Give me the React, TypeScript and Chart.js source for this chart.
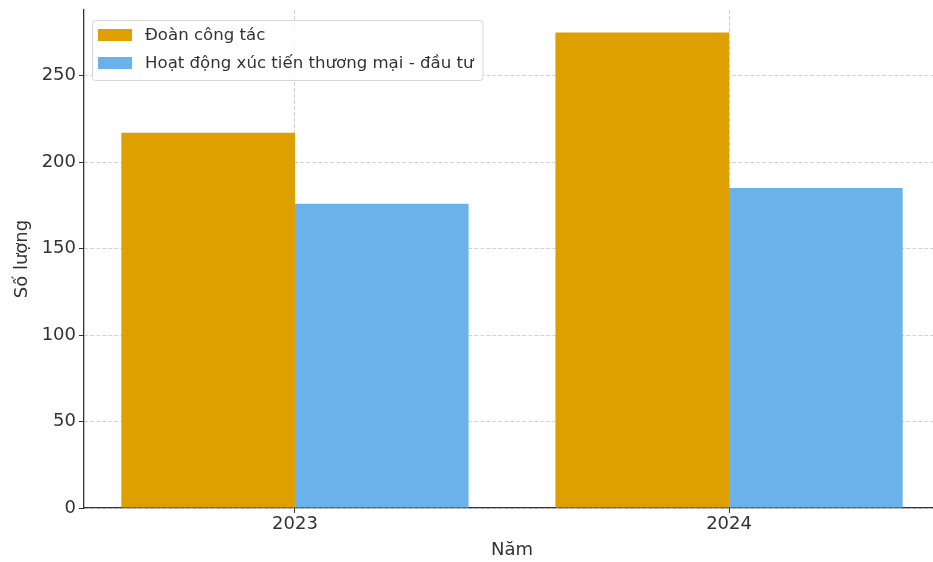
import React, { useEffect, useRef } from "react";
import { Chart, registerables } from "chart.js";

Chart.register(...registerables);

const years = ["2023", "2024"];
const seriesNames = ["Đoàn công tác", "Hoạt động xúc tiến thương mại - đầu tư"];
const doanCongTac = [217, 275];
const hoatDongXucTien = [176, 185];
const seriesColors = ["#DDA000", "#6AB2EA"];
const yTicks = [0, 50, 100, 150, 200, 250];

const FONT = "'DejaVu Sans', sans-serif";
const TEXT = "#333333";

const legendBoxPlugin = {
  id: "legendBox",
  afterDraw(chart: any) {
    const ctx = chart.ctx;
    const ds = chart.data.datasets;
    ctx.save();
    ctx.font = `16.6px ${FONT}`;
    let maxW = 0;
    ds.forEach((d: any) => {
      maxW = Math.max(maxW, ctx.measureText(d.label).width);
    });
    const bx = chart.chartArea.left + 8;
    const by = chart.chartArea.top + 10;
    const bw = 53 + maxW + 9;
    const bh = 60;
    ctx.beginPath();
    ctx.roundRect(bx + 0.5, by + 0.5, bw, bh, 3);
    ctx.fillStyle = "rgba(255,255,255,0.85)";
    ctx.fill();
    ctx.strokeStyle = "#d6d6d6";
    ctx.lineWidth = 1;
    ctx.stroke();
    ds.forEach((d: any, i: number) => {
      const cy = by + 15 + i * 28;
      ctx.fillStyle = d.backgroundColor;
      ctx.fillRect(bx + 6, cy - 6, 34, 12);
      ctx.fillStyle = TEXT;
      ctx.textBaseline = "middle";
      ctx.textAlign = "left";
      ctx.fillText(d.label, bx + 53, cy + 1);
    });
    ctx.restore();
  },
};

export default function App() {
  const ref = useRef<HTMLCanvasElement | null>(null);

  useEffect(() => {
    document.documentElement.style.overflow = "hidden";
    document.body.style.margin = "0";
    document.body.style.overflow = "hidden";
    const canvas = ref.current;
    if (!canvas) return;
    const values = [doanCongTac, hoatDongXucTien];
    const chart = new Chart(canvas, {
      type: "bar",
      data: {
        datasets: seriesNames.map((name, s) => ({
          label: name,
          data: years.map((_, i) => ({ x: i, y: values[s][i] })),
          backgroundColor: seriesColors[s],
          borderWidth: 0,
          categoryPercentage: 0.8,
          barPercentage: 1.0,
        })),
      },
      options: {
        animation: false,
        responsive: false,
        maintainAspectRatio: false,
        layout: { padding: { top: 10, right: 1, left: 0, bottom: 0 } },
        plugins: {
          legend: { display: false },
          tooltip: { enabled: false },
          title: { display: false },
        },
        scales: {
          x: {
            type: "linear",
            offset: false,
            min: -0.486,
            max: 1.486,
            afterBuildTicks: (scale: any) => {
              scale.ticks = years.map((_, i) => ({ value: i }));
            },
            afterFit: (scale: any) => {
              scale.height = 54;
            },
            ticks: {
              callback: (v: any) => years[v] ?? "",
              font: { family: FONT, size: 18 },
              color: TEXT,
              padding: 1,
              maxRotation: 0,
              autoSkip: false,
            },
            grid: {
              offset: false,
              color: "rgba(0,0,0,0.18)",
              lineWidth: 1,
              tickColor: "#333333",
              tickLength: 5,
              tickBorderDash: [],
            },
            border: { display: true, color: "#333333", width: 1.3, dash: [4, 2] },
            title: {
              display: true,
              text: "Năm",
              font: { family: FONT, size: 18 },
              color: TEXT,
              padding: { top: 0, bottom: 1 },
            },
          },
          y: {
            type: "linear",
            min: 0,
            max: 288,
            afterBuildTicks: (scale: any) => {
              scale.ticks = yTicks.map((v) => ({ value: v }));
            },
            afterFit: (scale: any) => {
              scale.width = 84;
              scale.paddingTop = 0;
            },
            ticks: {
              font: { family: FONT, size: 18 },
              color: TEXT,
              padding: 3,
            },
            grid: {
              color: "rgba(0,0,0,0.18)",
              lineWidth: 1,
              tickColor: "#333333",
              tickLength: 5,
              tickBorderDash: [],
            },
            border: { display: true, color: "#333333", width: 1.3, dash: [4, 2] },
            title: {
              display: true,
              text: "Số lượng",
              font: { family: FONT, size: 18 },
              color: TEXT,
              padding: { top: 12, bottom: 0 },
            },
          },
        },
      },
      plugins: [legendBoxPlugin],
    } as any);
    return () => chart.destroy();
  }, []);

  return (
    <div style={{ width: 941, height: 562 }}>
      <canvas ref={ref} width={941} height={562} style={{ display: "block", width: 941, height: 562 }} />
    </div>
  );
}
